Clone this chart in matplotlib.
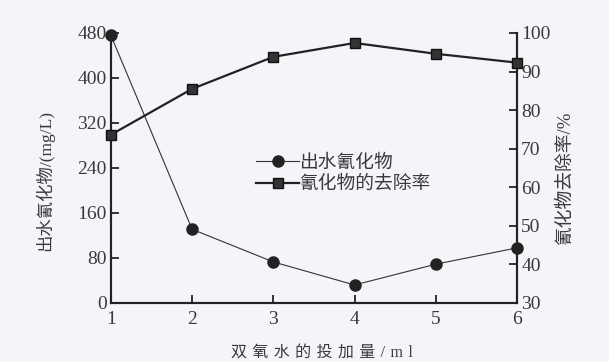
import matplotlib
matplotlib.use("Agg")
import matplotlib.pyplot as plt

plt.rcParams['font.family'] = ['Liberation Serif', 'Noto Sans CJK SC']

dose = [1, 2, 3, 4, 5, 6]
cyanide_out = [476, 131, 73, 32, 69, 98]        # mg/L, left axis
removal_rate = [73.6, 85.5, 93.8, 97.4, 94.6, 92.3]  # %, right axis

x_label = '双氧水的投加量/ml'
y_label_left = '出水氰化物/(mg/L)'
y_label_right = '氰化物去除率/%'
series_names = ['出水氰化物', '氰化物的去除率']

bg = '#f3f5f9'
fig = plt.figure(figsize=(6.09, 3.62), dpi=100, facecolor=bg)
ax = fig.add_axes([0.182, 0.163, 0.667, 0.746], facecolor=bg)
ax2 = ax.twinx()

l1, = ax.plot(dose, cyanide_out, color='#333333', lw=0.8, marker='o',
              ms=8, mfc='#222222', mec='#222222', clip_on=False, zorder=3)
l2, = ax2.plot(dose, removal_rate, color='#222222', lw=1.6, marker='s',
               ms=6.5, mfc='#333333', mec='#111111', clip_on=False, zorder=3)

ax.set_xlim(1, 6)
ax.set_ylim(0, 480)
ax2.set_ylim(30, 100)
ax.set_xticks(dose)
ax.set_yticks(range(0, 481, 80))
ax2.set_yticks(range(30, 101, 10))

for a in (ax, ax2):
    a.spines['top'].set_visible(False)
    for s in a.spines.values():
        s.set_linewidth(1.5)
        s.set_color('#222222')
    a.tick_params(direction='in', length=6, width=1.3, labelsize=14,
                  colors='#222222', labelcolor='#3a3a3a')
ax.tick_params(axis='x', pad=6)
ax.tick_params(axis='y', pad=3)
ax2.tick_params(axis='y', pad=3)

# spaced-out characters for the x label (three-per-em space)
spaced = '\u2004'.join(x_label)
ax.set_xlabel(spaced, fontsize=11.5, color='#3a3a3a')
ax.xaxis.set_label_coords(0.52, -0.155)
ax.set_ylabel(y_label_left, fontsize=12.5, color='#3a3a3a')
ax.yaxis.set_label_coords(-0.139, 0.455)
ax2.set_ylabel(y_label_right, fontsize=13.5, color='#3a3a3a', rotation=90)
ax2.yaxis.set_label_coords(1.098, 0.46)

leg = ax.legend([l1, l2], series_names, loc='upper left',
                bbox_to_anchor=(0.358, 0.55), frameon=False, fontsize=13.5,
                handlelength=2.3, handletextpad=0.0, labelspacing=0.22,
                borderaxespad=0, borderpad=0)
for t in leg.get_texts():
    t.set_color('#3a3a3a')

fig.savefig('out.png', dpi=100, facecolor=bg)
